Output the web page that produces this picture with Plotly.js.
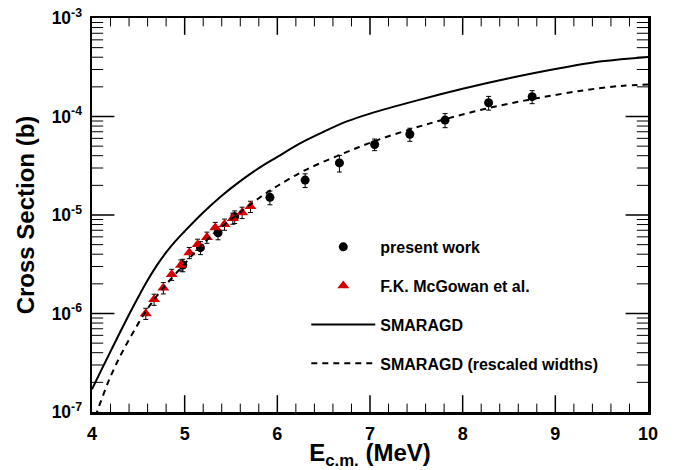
<!DOCTYPE html>
<html><head><meta charset="utf-8">
<script src="https://cdn.plot.ly/plotly-3.0.1.min.js"></script>
<style>html,body{margin:0;padding:0;background:#fff;}</style>
</head><body>
<div id="chart" style="width:674px;height:470px;"></div>
<script>
// Present work (black circles)
const presentX   = [4.98, 5.17, 5.36, 5.54, 5.92, 6.30, 6.67, 7.05, 7.43, 7.81, 8.28, 8.75];
const presentY   = [3.1e-6, 4.66e-6, 6.6e-6, 9.6e-6, 1.51e-5, 2.26e-5, 3.38e-5, 5.2e-5, 6.6e-5, 9.2e-5, 1.38e-4, 1.59e-4];
const presentErr = [0.45e-6, 0.7e-6, 1.0e-6, 1.4e-6, 2.4e-6, 3.6e-6, 6.5e-6, 7e-6, 1.0e-5, 1.5e-5, 2.2e-5, 2.4e-5];

// F.K. McGowan et al. (red triangles)
const mcgowanX   = [4.58, 4.67, 4.77, 4.86, 4.96, 5.05, 5.14, 5.24, 5.33, 5.43, 5.52, 5.62, 5.71];
const mcgowanY   = [1.0e-6, 1.39e-6, 1.82e-6, 2.49e-6, 3.1e-6, 4.14e-6, 5.03e-6, 5.93e-6, 7.44e-6, 8.04e-6, 9.25e-6, 1.06e-5, 1.22e-5];
const mcgowanErr = [0.13e-6, 0.18e-6, 0.24e-6, 0.32e-6, 0.4e-6, 0.54e-6, 0.65e-6, 0.77e-6, 0.97e-6, 1.05e-6, 1.2e-6, 1.4e-6, 1.6e-6];

// SMARAGD (solid)
const smaragdX = [4.0, 4.1, 4.2, 4.3, 4.4, 4.5, 4.6, 4.7, 4.8, 4.9, 5.0, 5.2, 5.4, 5.6, 5.8, 6.0, 6.25, 6.5, 6.75, 7.0, 7.5, 8.0, 8.5, 9.0, 9.5, 10.0];
const smaragdY = [1.70e-7, 2.66e-7, 4.12e-7, 6.38e-7, 9.77e-7, 1.47e-6, 2.17e-6, 3.08e-6, 4.17e-6, 5.43e-6, 6.84e-6, 1.06e-5, 1.57e-5, 2.21e-5, 2.99e-5, 3.89e-5, 5.37e-5, 7.0e-5, 8.91e-5, 1.07e-4, 1.45e-4, 1.91e-4, 2.44e-4, 3.03e-4, 3.63e-4, 4.03e-4];

// SMARAGD (rescaled widths) (dashed)
const rescaledX = [4.0, 4.1, 4.2, 4.3, 4.4, 4.5, 4.6, 4.7, 4.8, 5.0, 5.2, 5.4, 5.6, 5.8, 6.0, 6.3, 6.7, 7.05, 7.45, 7.8, 8.3, 8.8, 9.3, 9.7, 10.0];
const rescaledY = [7.08e-8, 1.32e-7, 2.29e-7, 3.63e-7, 5.43e-7, 7.94e-7, 1.12e-6, 1.51e-6, 1.97e-6, 3.20e-6, 5.13e-6, 7.59e-6, 1.07e-5, 1.48e-5, 1.97e-5, 2.85e-5, 4.17e-5, 5.62e-5, 7.50e-5, 9.33e-5, 1.23e-4, 1.53e-4, 1.84e-4, 2.04e-4, 2.11e-4];

// Axis ranges and ticks
const xRange = [4, 10];
const yRangeExp = [-7, -3];
const xTickVals = [4, 5, 6, 7, 8, 9, 10];
const xTickText = ['<b>4</b>', '<b>5</b>', '<b>6</b>', '<b>7</b>', '<b>8</b>', '<b>9</b>', '<b>10</b>'];
const yTickVals = [1e-7, 1e-6, 1e-5, 1e-4, 1e-3];
const yTickText = ['<b>10<sup>-7</sup></b>', '<b>10<sup>-6</sup></b>', '<b>10<sup>-5</sup></b>', '<b>10<sup>-4</sup></b>', '<b>10<sup>-3</sup></b>'];

// minor tick positions (axis decoration)
const xMinor = [];
for (let i = 0; i < 6; i++) for (let k = 1; k < 5; k++) xMinor.push(+(4 + i + k * 0.2).toFixed(2));
const yMinor = [];
for (let e = -7; e < -3; e++) for (let k = 2; k < 10; k++) yMinor.push(k * Math.pow(10, e));

const FONT = 'Liberation Sans, Arial, Helvetica, sans-serif';

// Inside tick marks: line markers centred on the frame edges, clipped to the plot area
const yLo = Math.pow(10, yRangeExp[0]), yHi = Math.pow(10, yRangeExp[1]);
function xTickTrace(vals, size, w) {
  const xs = [], ys = [];
  vals.forEach(function (v) { xs.push(v, v); ys.push(yLo, yHi); });
  return {x: xs, y: ys, type: 'scatter', mode: 'markers', showlegend: false, hoverinfo: 'skip', cliponaxis: true,
    marker: {symbol: 'line-ns', size: size, color: '#000', line: {width: w, color: '#000'}}};
}
function yTickTrace(vals, size, w) {
  const xs = [], ys = [];
  vals.forEach(function (v) { xs.push(xRange[0], xRange[1]); ys.push(v, v); });
  return {x: xs, y: ys, type: 'scatter', mode: 'markers', showlegend: false, hoverinfo: 'skip', cliponaxis: true,
    marker: {symbol: 'line-ew', size: size, color: '#000', line: {width: w, color: '#000'}}};
}

const traces = [
  xTickTrace(xTickVals.slice(1, -1), 24, 1.5),
  xTickTrace(xMinor, 12, 1),
  yTickTrace(yTickVals.slice(1, -1), 32, 1.5),
  yTickTrace(yMinor, 16, 1),
  {
    x: presentX, y: presentY, type: 'scatter', mode: 'markers', name: '<b>present work</b>',
    legendgroup: 'a',
    marker: {symbol: 'circle', size: 9, color: '#000'},
    error_y: {type: 'data', array: presentErr, visible: true, color: '#000', thickness: 1, width: 2.5}
  },
  {
    x: mcgowanX, y: mcgowanY, type: 'scatter', mode: 'markers', name: '<b>F.K. McGowan et al.</b>',
    legendgroup: 'b',
    marker: {symbol: 'triangle-up', size: 10.5, color: '#d40000'},
    error_y: {type: 'data', array: mcgowanErr, visible: true, color: '#000', thickness: 1, width: 2.5}
  },
  {
    x: smaragdX, y: smaragdY, type: 'scatter', mode: 'lines', name: '<b>SMARAGD</b>',
    legendgroup: 'c',
    line: {color: '#000', width: 2, shape: 'spline', smoothing: 1}
  },
  {
    x: rescaledX, y: rescaledY, type: 'scatter', mode: 'lines', name: '<b>SMARAGD (rescaled widths)</b>',
    legendgroup: 'd',
    line: {color: '#000', width: 2, dash: '6px,5px', shape: 'spline', smoothing: 1}
  }
];

const layout = {
  width: 674, height: 470,
  margin: {l: 92, r: 26, t: 18, b: 58},
  paper_bgcolor: '#fff', plot_bgcolor: '#fff',
  font: {family: FONT, color: '#000'},
  showlegend: true,
  legend: {
    x: 0.3854, y: 0.462, xanchor: 'left', yanchor: 'top',
    bgcolor: 'rgba(0,0,0,0)', borderwidth: 0,
    font: {family: FONT, size: 16, color: '#000'},
    tracegroupgap: 15, itemwidth: 64, traceorder: 'grouped'
  },
  xaxis: {
    range: xRange, tickmode: 'array', tickvals: xTickVals, ticktext: xTickText,
    ticks: '', ticklabelstandoff: 4,
    showline: true, linewidth: 2.5, linecolor: '#000', mirror: true,
    showgrid: false, zeroline: false,
    tickfont: {family: FONT, size: 18, color: '#000'},
    title: {text: '<b>E<sub>c.m.</sub> (MeV)</b>', font: {family: FONT, size: 24, color: '#000'}, standoff: 9}
  },
  yaxis: {
    type: 'log', range: yRangeExp, tickmode: 'array', tickvals: yTickVals, ticktext: yTickText,
    ticks: '', ticklabelstandoff: 4,
    showline: true, linewidth: 2.5, linecolor: '#000', mirror: true,
    showgrid: false, zeroline: false,
    tickfont: {family: FONT, size: 17.5, color: '#000'},
    title: {text: '<b>Cross Section (b)</b>', font: {family: FONT, size: 24, color: '#000'}, standoff: 10}
  }
};

Plotly.newPlot('chart', traces, layout, {displayModeBar: false, staticPlot: true});
</script>
</body></html>
